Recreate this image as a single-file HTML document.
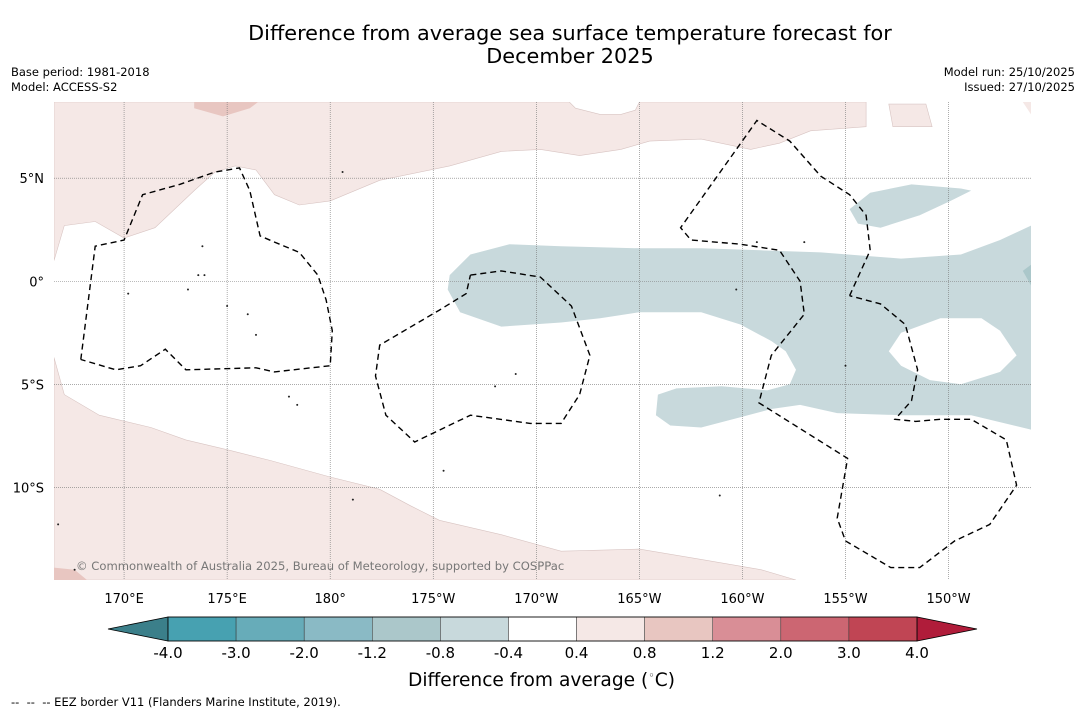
<!DOCTYPE html>
<html><head><meta charset="utf-8"><style>
body{margin:0;background:#fff;font-family:"Liberation Sans","DejaVu Sans",sans-serif;}
#wrap{position:relative;width:1085px;height:713px;overflow:hidden;background:#fff}
.t{position:absolute;white-space:nowrap;color:#000}
</style></head><body>
<div id="wrap">
<div class="t" style="left:0;width:1140px;text-align:center;top:22px;font-size:20.8px;line-height:23px;font-family:'DejaVu Sans',sans-serif">Difference from average sea surface temperature forecast for<br>December 2025</div>
<div class="t" style="left:11px;top:65px;font-size:11.5px;line-height:15px;font-family:'DejaVu Sans',sans-serif">Base period: 1981-2018<br>Model: ACCESS-S2</div>
<div class="t" style="right:10px;top:65px;font-size:11.5px;line-height:15px;text-align:right;font-family:'DejaVu Sans',sans-serif">Model run: 25/10/2025<br>Issued: 27/10/2025</div>
<svg id="svg" width="1085" height="713" style="position:absolute;left:0;top:0"></svg>
<div class="t" style="left:408px;top:669px;font-size:18.6px;font-family:'DejaVu Sans',sans-serif">Difference from average (<sup style="font-size:11px">◦</sup>C)</div>
<div class="t" style="left:11px;top:695px;font-size:11.5px;font-family:'DejaVu Sans',sans-serif">-- &nbsp;-- &nbsp;-- EEZ border V11 (Flanders Marine Institute, 2019).</div>
</div>
<script>
const lonTicks=[170,175,180,185,190,195,200,205,210];
const lonLabels=["170°E","175°E","180°","175°W","170°W","165°W","160°W","155°W","150°W"];
const latTicks=[5,0,-5,-10];
const latLabels=["5°N","0°","5°S","10°S"];
const cbLevels=["-4.0","-3.0","-2.0","-1.2","-0.8","-0.4","0.4","0.8","1.2","2.0","3.0","4.0"];
const cbColors=["#47a1b1","#67acb9","#8abac5","#abc7ca","#c8d9dc","#ffffff","#f5e8e6","#e8c6c1","#d98e96","#cc6672","#c04554"];
const cbUnder="#3b7f8a", cbOver="#b01c3a";
// anomaly regions [lon,lat]
const pinkTop=[[166.6,1.0],[167.1,2.7],[168.6,2.9],[170.0,2.1],[171.5,2.6],[173.4,4.4],[174.4,5.3],[175.4,5.6],[176.4,5.4],[177.3,4.2],[178.5,3.7],[180,3.9],[182.4,4.9],[185.8,5.6],[188.3,6.3],[190.2,6.4],[192.1,6.1],[194.1,6.4],[195.5,6.8],[198.0,6.9],[200.4,6.4],[201.8,6.7],[203.3,7.3],[206.0,7.5],[206.0,8.7],[195.0,8.7],[194.8,8.3],[194.1,8.1],[193.1,8.1],[191.9,8.4],[191.6,8.7],[166.6,8.7]];
const pinkTop2=[[173.4,8.7],[176.5,8.7],[176.1,8.4],[174.8,8.0],[173.4,8.4]];
const pinkIsland=[[207.1,8.6],[208.9,8.6],[209.2,7.5],[207.3,7.5]];
const pinkCorner=[[213.6,8.7],[214.0,8.7],[214.0,8.1]];
const pinkBottom=[[166.6,-3.7],[167.1,-5.5],[168.8,-6.5],[171.3,-7.1],[173.0,-7.7],[175.1,-8.2],[177.1,-8.7],[180,-9.5],[182.4,-10.1],[183.9,-10.9],[185.3,-11.6],[188.3,-12.3],[191.2,-13.1],[195.0,-13.0],[198.0,-13.5],[200.9,-14.0],[202.6,-14.5],[166.6,-14.5]];
const pinkBottom2=[[166.6,-13.9],[167.6,-14.0],[168.2,-14.5],[166.6,-14.5]];
const blueMain=[[185.8,0.3],[186.8,1.3],[188.7,1.8],[191.2,1.7],[195.0,1.6],[198.0,1.6],[200.9,1.5],[203.8,1.4],[207.7,1.1],[210.6,1.3],[212.5,2.0],[214.0,2.7],[214.0,-7.2],[211.1,-6.5],[207.7,-6.5],[204.6,-6.4],[202.8,-6.0],[201.4,-6.2],[199.9,-6.6],[198.0,-7.1],[196.5,-7.0],[195.8,-6.5],[195.9,-5.5],[196.8,-5.2],[199.0,-5.1],[201.2,-5.3],[202.3,-5.0],[202.6,-4.3],[202.1,-3.4],[201.4,-2.9],[199.9,-2.1],[198.0,-1.5],[195.0,-1.5],[193.1,-1.8],[191.2,-2.0],[188.3,-2.2],[186.3,-1.5],[185.7,-0.4]];
const blueNE=[[205.2,3.5],[206.2,4.3],[208.2,4.7],[210.6,4.5],[211.1,4.4],[210.1,3.9],[208.6,3.2],[206.7,2.6],[205.6,2.8]];
const holeE=[[207.1,-3.4],[207.7,-2.5],[209.6,-1.8],[211.6,-1.8],[212.5,-2.4],[213.3,-3.6],[212.5,-4.4],[210.6,-5.0],[209.1,-4.8],[207.7,-4.1]];
const blueEdge=[[213.6,0.5],[214.0,0.8],[214.0,-0.2]];
// EEZ borders
const eez1=[[167.9,-3.8],[168.6,1.7],[170.0,2.0],[170.9,4.2],[172.7,4.7],[174.4,5.3],[175.6,5.5],[176.1,4.4],[176.6,2.2],[177.3,1.9],[178.5,1.4],[179.4,0.3],[179.8,-0.9],[180.1,-2.4],[180.0,-4.1],[177.3,-4.4],[176.4,-4.2],[173.0,-4.3],[172.0,-3.3],[170.8,-4.1],[169.6,-4.3],[167.9,-3.8]];
const eez2=[[186.8,0.3],[188.3,0.5],[190.2,0.2],[191.7,-1.2],[192.6,-3.6],[192.1,-5.5],[191.2,-6.9],[189.7,-6.9],[186.8,-6.5],[184.1,-7.8],[182.7,-6.5],[182.2,-4.6],[182.4,-3.1],[185.3,-1.4],[186.6,-0.6],[186.8,0.3]];
const eez3=[[205.2,-0.7],[206.2,1.5],[206.0,3.2],[205.2,4.2],[203.8,5.1],[202.3,6.8],[200.7,7.8],[197.0,2.6],[197.5,2.0],[199.9,1.8],[201.8,1.5],[202.8,0.0],[203.0,-1.6],[201.4,-3.6],[200.8,-5.9],[205.1,-8.6],[204.6,-11.5],[205.0,-12.6],[207.2,-13.9],[208.6,-13.9],[210.3,-12.6],[212.0,-11.8],[213.3,-9.9],[212.8,-7.7],[211.1,-6.7],[209.6,-6.7],[208.4,-6.8],[207.4,-6.7],[208.2,-5.8],[208.5,-4.3],[207.9,-2.1],[206.7,-1.1],[205.2,-0.7]];
const islands=[[170.2,-0.6],[173.1,-0.4],[173.6,0.3],[175.0,-1.2],[176.0,-1.6],[176.4,-2.6],[178.0,-5.6],[178.4,-6.0],[181.1,-10.6],[185.5,-9.2],[188.0,-5.1],[189.0,-4.5],[198.9,-10.4],[200.7,1.9],[203.0,1.9],[205.0,-4.1],[199.7,-0.4],[166.8,-11.8],[167.6,-14.0],[180.6,5.3],[173.8,1.7],[173.9,0.3]];

const X0=166.6,X1=214.0,Y0=8.7,Y1=-14.5,PX0=54,PX1=1031,PY0=102,PY1=580;
const sx=v=>PX0+(v-X0)/(X1-X0)*(PX1-PX0);
const sy=v=>PY0+(Y0-v)/(Y0-Y1)*(PY1-PY0);
const NS="http://www.w3.org/2000/svg";
const svg=document.getElementById('svg');
function mk(tag,attrs,parent){const e=document.createElementNS(NS,tag);for(const k in attrs)e.setAttribute(k,attrs[k]);(parent||svg).appendChild(e);return e;}
const pts=a=>a.map(p=>sx(p[0]).toFixed(1)+','+sy(p[1]).toFixed(1)).join(' ');
const defs=mk('defs',{});
const cp=mk('clipPath',{id:'clip'},defs);
mk('rect',{x:PX0,y:PY0,width:PX1-PX0,height:PY1-PY0},cp);
const g=mk('g',{'clip-path':'url(#clip)'});


function poly(a,fill,name,stroke){const e=mk('polygon',{points:pts(a),fill:fill,stroke:stroke||'none','stroke-width':0.6},g);

return e;}
poly(pinkTop,'#f5e8e6','anomaly-0.4-0.8-north','#d8c4c2');
poly(pinkTop2,'#e8c6c1','anomaly-0.8-1.2-north');
poly(pinkIsland,'#f5e8e6','anomaly-0.4-0.8-northeast','#d8c4c2');
poly(pinkCorner,'#f5e8e6','anomaly-corner');
poly(pinkBottom,'#f5e8e6','anomaly-0.4-0.8-south','#d8c4c2');
poly(pinkBottom2,'#e8c6c1','anomaly-0.8-1.2-south');
poly(blueMain,'#c8d9dc','anomaly-neg-band');
poly(blueNE,'#c8d9dc','anomaly-neg-northeast');
poly(holeE,'#ffffff','anomaly-neutral-hole');
poly(blueEdge,'#abc7ca','anomaly-neg-edge');
// gridlines
lonTicks.forEach((v,i)=>{const l=mk('line',{x1:sx(v),x2:sx(v),y1:PY0,y2:PY1,stroke:'#777','stroke-width':0.6,'stroke-dasharray':'1,1'},g);


const t=mk('text',{x:sx(v),y:603,'text-anchor':'middle','font-size':13,'font-family':'DejaVu Sans, sans-serif'});t.textContent=lonLabels[i];

});
latTicks.forEach((v,i)=>{const l=mk('line',{x1:PX0,x2:PX1,y1:sy(v),y2:sy(v),stroke:'#777','stroke-width':0.6,'stroke-dasharray':'1,1'},g);


const t=mk('text',{x:44,y:sy(v)+5,'text-anchor':'end','font-size':13,'font-family':'DejaVu Sans, sans-serif'});t.textContent=latLabels[i];

});
islands.forEach(p=>{const c=mk('circle',{cx:sx(p[0]),cy:sy(p[1]),r:1,fill:'#222'},g);

});
[eez1,eez2,eez3].forEach(a=>{const e=mk('polyline',{points:pts(a),fill:'none',stroke:'#000','stroke-width':1.4,'stroke-dasharray':'6,4'},g);

});
const cr=mk('text',{x:76,y:570,'font-size':11.6,fill:'#777','font-family':'DejaVu Sans, sans-serif'},g);cr.textContent='© Commonwealth of Australia 2025, Bureau of Meteorology, supported by COSPPac';


// colorbar
const CB0=168,CB1=917,CBY=617,CBH=24,n=cbColors.length,w=(CB1-CB0)/n;
const cb=mk('g',{});


mk('polygon',{points:`${CB0},${CBY} ${CB0},${CBY+CBH} 108,${CBY+CBH/2}`,fill:cbUnder,stroke:'#000','stroke-width':0.8},cb);
mk('polygon',{points:`${CB1},${CBY} ${CB1},${CBY+CBH} 977,${CBY+CBH/2}`,fill:cbOver,stroke:'#000','stroke-width':0.8},cb);
cbColors.forEach((c,i)=>{const r=mk('rect',{x:CB0+i*w,y:CBY,width:w,height:CBH,fill:c,stroke:'#333','stroke-width':0.5},cb);

});
mk('rect',{x:CB0,y:CBY,width:CB1-CB0,height:CBH,fill:'none',stroke:'#000','stroke-width':0.8},cb);
cbLevels.forEach((s,i)=>{const t=mk('text',{x:CB0+i*w,y:658,'text-anchor':'middle','font-size':15,'font-family':'DejaVu Sans, sans-serif'},cb);t.textContent=s;

});
</script>
</body></html>
